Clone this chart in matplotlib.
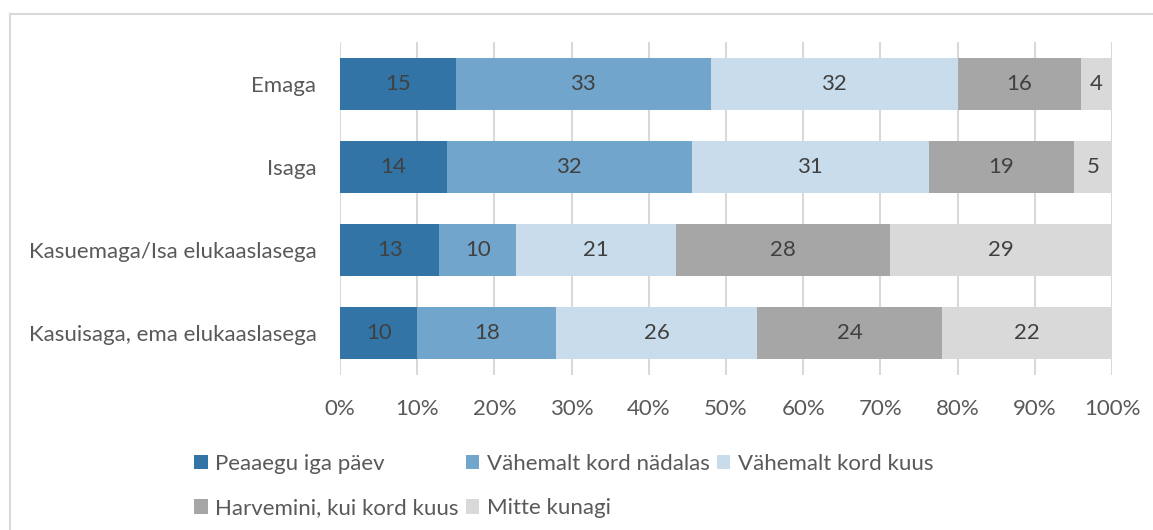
import numpy as np
import matplotlib
matplotlib.use("Agg")
import matplotlib.pyplot as plt
from matplotlib.lines import Line2D

plt.rcParams['font.family'] = ['Lato', 'DejaVu Sans']

# andmed (protsendid)
categories = ["Emaga", "Isaga", "Kasuemaga/Isa elukaaslasega", "Kasuisaga, ema elukaaslasega"]
series_names = ["Peaaegu iga päev", "Vähemalt kord nädalas", "Vähemalt kord kuus",
                "Harvemini, kui kord kuus", "Mitte kunagi"]
peaaegu_iga_paev = [15, 14, 13, 10]
kord_nadalas = [33, 32, 10, 18]
kord_kuus = [32, 31, 21, 26]
harvemini = [16, 19, 28, 24]
mitte_kunagi = [4, 5, 29, 22]
tick_labels = ["0%", "10%", "20%", "30%", "40%", "50%", "60%", "70%", "80%", "90%", "100%"]

colors = ["#3174A5", "#72A5CB", "#C8DCEB", "#A6A6A6", "#D9D9D9"]
fs = 16

values = np.array([peaaegu_iga_paev, kord_nadalas, kord_kuus, harvemini, mitte_kunagi], dtype=float)
shares = values / values.sum(axis=0)  # iga rida kokku 100%

fig = plt.figure(figsize=(11.53, 5.30), dpi=100)
ax = fig.add_axes([340 / 1153, 1 - 375 / 530, 772 / 1153, 333 / 530])

y = np.arange(len(categories))
left = np.zeros(len(categories))
handles = []
for i, name in enumerate(series_names):
    bars = ax.barh(y, shares[i], left=left, height=0.625, color=colors[i],
                   label=name, zorder=3)
    handles.append(bars)
    for j, b in enumerate(bars):
        ax.text(left[j] + shares[i][j] / 2, y[j], f"{int(values[i][j])}",
                ha="center", va="center", fontsize=fs, color="#404040", zorder=4)
    left += shares[i]

ax.set_xlim(0, 1)
ax.set_ylim(len(categories) - 0.5, -0.5)
ax.set_xticks(np.linspace(0, 1, 11))
ax.set_xticklabels(tick_labels)
ax.set_yticks(y)
ax.set_yticklabels(categories)
ax.tick_params(axis="both", length=0, labelsize=fs, labelcolor="#595959")
ax.tick_params(axis="x", pad=17)
ax.tick_params(axis="y", pad=17)
ax.grid(axis="x", color="#D9D9D9", linewidth=1.5, zorder=0)
for s in ax.spines.values():
    s.set_visible(False)

# legend: two rows, column order fixed by reordering
order = [0, 3, 1, 4, 2]
leg = fig.legend([handles[k] for k in order], [series_names[k] for k in order],
                 ncol=3, loc="upper left", bbox_to_anchor=(176 / 1153, 1 - 436 / 530),
                 frameon=False, fontsize=fs, labelcolor="#595959",
                 handlelength=0.62, handleheight=0.62, handletextpad=0.35,
                 columnspacing=0.3, labelspacing=1.1, borderpad=0.3)

# outer frame
fig.add_artist(Line2D([10 / 1153, 10 / 1153], [0, 1 - 14 / 530], transform=fig.transFigure,
                      color="#D9D9D9", linewidth=1.5))
fig.add_artist(Line2D([10 / 1153, 1], [1 - 14 / 530, 1 - 14 / 530], transform=fig.transFigure,
                      color="#D9D9D9", linewidth=1.5))

fig.savefig("out.png", dpi=100, facecolor="white")
